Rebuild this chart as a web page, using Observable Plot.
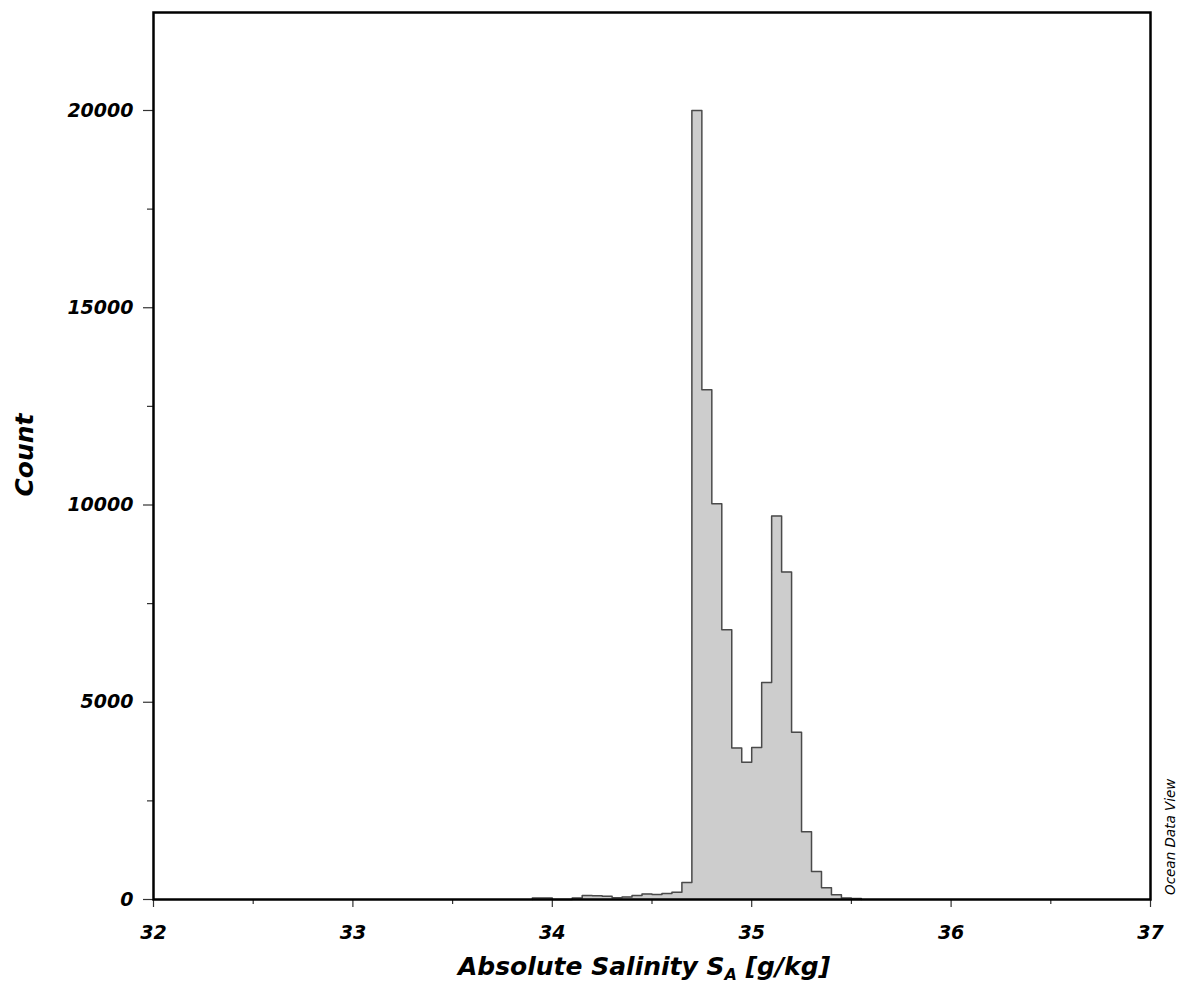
<!DOCTYPE html>
<html><head><meta charset="utf-8">
<script src="https://cdn.jsdelivr.net/npm/d3@7"></script>
<script src="https://cdn.jsdelivr.net/npm/@observablehq/plot@0.6"></script>
<style>
html,body{margin:0;padding:0;background:#fff;}
#chart svg{display:block;}
#chart svg text{font-family:"DejaVu Sans",sans-serif;font-weight:bold;font-style:italic;fill:#000;}
</style></head><body><div id="chart"></div>
<script>
// Histogram bins (left edge of each 0.05 g/kg bin) and counts
const binLeft = [33.90,33.95,34.00,34.05,34.10,34.15,34.20,34.25,34.30,34.35,34.40,34.45,34.50,34.55,34.60,34.65,
  34.70,34.75,34.80,34.85,34.90,34.95,35.00,35.05,35.10,35.15,35.20,35.25,35.30,35.35,35.40,35.45,35.50];
const counts = [40,40,0,0,40,100,95,85,45,65,100,140,125,150,185,430,
  20000,12920,10030,6840,3840,3480,3850,5500,9720,8300,4240,1720,710,300,120,35,25];
const binWidth = 0.05;
const xMajorTicks = [32,33,34,35,36,37];
const xMinorTicks = [32.5,33.5,34.5,35.5,36.5];
const yMajorTicks = [0,5000,10000,15000,20000];
const yMinorTicks = [2500,7500,12500,17500];
const yTitle = "Count";
const xTitleParts = ["Absolute Salinity S", "A", " [g/kg]"];
const creditText = "Ocean Data View";

const bins = binLeft.map((x, i) => ({x1: x, x2: x + binWidth, count: counts[i]}));
const outline = [{x: bins[0].x1, y: 0}];
bins.forEach(b => { outline.push({x: b.x1, y: b.count}); outline.push({x: b.x2, y: b.count}); });
outline.push({x: bins[bins.length - 1].x2, y: 0});

const plot = Plot.plot({
  width: 1186, height: 989,
  marginLeft: 153, marginRight: 36, marginTop: 12, marginBottom: 90,
  x: {domain: [32, 37]},
  y: {domain: [0, 22484]},
  style: {fontFamily: "DejaVu Sans", background: "#fff", overflow: "visible"},
  marks: [
    Plot.areaY(outline, {x: "x", y1: 0, y2: "y", fill: "#cdcdcd"}),
    Plot.line(outline, {x: "x", y: "y", stroke: "#4a4a4a", strokeWidth: 1.5}),
    Plot.axisX({ticks: xMajorTicks, tickSize: 8, tickPadding: 18, tickFormat: d => String(d), fontSize: 19, label: null, stroke: "#333", strokeWidth: 1.2}),
    Plot.axisX({ticks: xMinorTicks, tickSize: 5, tickFormat: () => "", label: null, stroke: "#333", strokeWidth: 1.2}),
    Plot.axisY({ticks: yMajorTicks, tickSize: 10, tickPadding: 10, tickFormat: d => String(d), fontSize: 19, label: null, stroke: "#333", strokeWidth: 1.2}),
    Plot.axisY({ticks: yMinorTicks, tickSize: 6, tickFormat: () => "", label: null, stroke: "#333", strokeWidth: 1.2}),
    Plot.frame({stroke: "#000", strokeWidth: 2.5})
  ]
});
document.getElementById("chart").appendChild(plot);

const svg = d3.select(plot);
svg.append("text")
  .attr("transform", "translate(33,455) rotate(-90)")
  .attr("text-anchor", "middle")
  .style("font-size", "25px")
  .text(yTitle);
const xt = svg.append("text")
  .attr("x", 644).attr("y", 975)
  .attr("text-anchor", "middle")
  .style("font-size", "25px");
xt.append("tspan").text(xTitleParts[0]);
xt.append("tspan").attr("dy", 5).style("font-size", "16px").text(xTitleParts[1]);
xt.append("tspan").attr("dy", -5).style("font-size", "25px").text(xTitleParts[2]);
svg.append("text")
  .attr("transform", "translate(1175,895) rotate(-90)")
  .attr("text-anchor", "start")
  .style("font-size", "13.5px")
  .style("font-weight", "normal")
  .text(creditText);
</script></body></html>
